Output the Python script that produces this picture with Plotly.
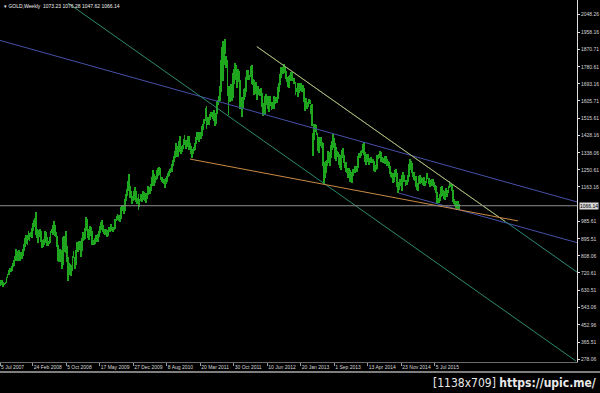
import pandas as pd
import plotly.graph_objects as go

# ---------------- data ----------------
symbol = "GOLD,Weekly"
last_ohlc = [1073.23, 1076.28, 1047.62, 1066.14]  # open, high, low, close of last bar

first_week = "2007-07-22"
bar_low = [
    656, 660, 664, 648, 658, 662, 670, 697, 710, 726, 728, 730, 750, 755, 783, 805, 782, 783, 780, 780, 795, 792, 810, 832,
    854, 870, 866, 890, 886, 905, 902, 938, 958, 965, 915, 902, 873, 908, 905, 880, 850, 852, 865, 887, 874, 860, 860, 870,
    876, 925, 915, 950, 910, 905, 855, 780, 775, 815, 775, 740, 760, 863, 828, 824, 779, 681, 712, 710, 705, 730, 795, 740,
    760, 830, 830, 855,
    838, 805, 835, 885, 888, 894, 938, 935, 900, 890, 915, 912, 865, 862, 862, 868, 880, 880, 905, 925, 940, 955, 930, 920,
    915, 925, 905, 910, 940, 930, 950, 935, 930, 940, 945, 990, 995, 987, 985, 1000, 1040, 1040, 1025, 1040, 1090, 1115,
    1140, 1160, 1105, 1105, 1075, 1090,
    1095, 1120, 1085, 1075, 1045, 1058, 1090, 1085, 1110, 1095, 1090, 1080, 1100, 1120, 1130, 1125, 1140, 1165, 1195, 1165,
    1185, 1196, 1205, 1217, 1225, 1200, 1190, 1185, 1180, 1155, 1180, 1190, 1212, 1220, 1232, 1238, 1240, 1270, 1290, 1312,
    1340, 1315, 1315, 1340, 1360, 1330, 1340, 1360, 1378, 1360, 1370, 1375,
    1353, 1355, 1330, 1309, 1330, 1345, 1355, 1385, 1405, 1410, 1395, 1420, 1410, 1425, 1455, 1485, 1500, 1462, 1480, 1480,
    1505, 1520, 1522, 1510, 1500, 1478, 1485, 1540, 1585, 1600, 1605, 1650, 1745, 1705, 1790, 1845, 1775, 1630, 1535, 1600,
    1650, 1605, 1620, 1690, 1750, 1715, 1670, 1700, 1700, 1565, 1590, 1523,
    1565, 1610, 1625, 1650, 1725, 1715, 1710, 1730, 1690, 1685, 1635, 1640, 1650, 1612, 1640, 1633, 1630, 1635, 1575, 1527,
    1532, 1535, 1585, 1585, 1562, 1550, 1578, 1560, 1565, 1562, 1590, 1600, 1595, 1615, 1650, 1685, 1725, 1755, 1745, 1765,
    1750, 1720, 1700, 1675, 1672, 1705, 1710, 1705, 1690, 1690, 1635, 1650, 1625,
    1645, 1660, 1655, 1650, 1660, 1600, 1555, 1565, 1562, 1575, 1590, 1590, 1540, 1475, 1321, 1405, 1445, 1430, 1350, 1338,
    1375, 1375, 1365, 1270, 1180, 1207, 1235, 1270, 1285, 1300, 1270, 1310, 1355, 1380, 1365, 1305, 1295, 1315, 1277, 1260,
    1251, 1310, 1310, 1285, 1262, 1240, 1235, 1210, 1225, 1186, 1194, 1182,
    1220, 1235, 1235, 1238, 1240, 1260, 1310, 1310, 1320, 1335, 1325, 1290, 1277, 1290, 1290, 1277, 1285, 1285, 1285, 1290,
    1245, 1240, 1250, 1255, 1305, 1310, 1310, 1293, 1288, 1285, 1283, 1300, 1272, 1275, 1260, 1228, 1212, 1208, 1184, 1190,
    1215, 1225, 1160, 1131, 1145, 1180, 1165, 1142, 1190, 1190, 1170, 1172,
    1187, 1215, 1275, 1250, 1232, 1216, 1197, 1195, 1163, 1147, 1142, 1180, 1178, 1190, 1185, 1175, 1170, 1170, 1185, 1202,
    1180, 1162, 1170, 1175, 1170, 1160, 1145, 1130, 1077, 1085, 1080, 1093, 1110, 1118, 1115, 1102, 1097, 1125, 1110, 1130,
    1155, 1160, 1140, 1085, 1075, 1066, 1052, 1046, 1071, 1047.62,
]
bar_high = [
    684, 674, 683, 672, 670, 675, 702, 715, 736, 746, 745, 754, 771, 788, 809, 845, 825, 832, 836, 806, 826, 815, 845, 869,
    898, 915, 915, 934, 926, 933, 953, 977, 992, 1005, 1033, 948, 935, 940, 945, 935, 892, 890, 895, 935, 930, 903, 885, 906,
    934, 946, 965, 988, 965, 930, 913, 866, 835, 846, 838, 807, 905, 911, 913, 934, 858, 800, 772, 765, 760, 810, 835, 800,
    840, 880, 880, 885,
    884, 860, 900, 930, 920, 950, 1006, 1000, 948, 932, 962, 958, 935, 890, 900, 914, 915, 920, 935, 962, 983, 992, 965, 945,
    945, 947, 935, 940, 958, 958, 970, 958, 955, 958, 999, 1012, 1024, 1020, 1010, 1061, 1070, 1070, 1065, 1100, 1124, 1150,
    1195, 1227, 1165, 1140, 1110, 1115,
    1140, 1160, 1140, 1105, 1125, 1100, 1125, 1125, 1140, 1135, 1130, 1110, 1130, 1165, 1162, 1150, 1180, 1212, 1249, 1230,
    1218, 1220, 1252, 1262, 1265, 1262, 1215, 1215, 1205, 1190, 1210, 1217, 1235, 1245, 1255, 1260, 1281, 1300, 1320, 1350,
    1387, 1375, 1362, 1398, 1424, 1375, 1380, 1410, 1432, 1405, 1392, 1425,
    1423, 1390, 1375, 1350, 1360, 1370, 1390, 1418, 1445, 1445, 1435, 1447, 1440, 1476, 1488, 1510, 1570, 1577, 1522, 1515,
    1540, 1550, 1550, 1545, 1560, 1515, 1545, 1605, 1610, 1630, 1680, 1814, 1880, 1912, 1885, 1921, 1835, 1815, 1680, 1680,
    1690, 1680, 1750, 1770, 1800, 1792, 1726, 1768, 1760, 1715, 1625, 1610,
    1625, 1665, 1670, 1730, 1765, 1765, 1740, 1785, 1790, 1720, 1715, 1670, 1700, 1680, 1680, 1660, 1665, 1670, 1645, 1595,
    1595, 1630, 1640, 1630, 1628, 1605, 1628, 1600, 1598, 1630, 1625, 1625, 1625, 1675, 1695, 1741, 1778, 1780, 1781, 1796,
    1785, 1760, 1730, 1725, 1735, 1738, 1755, 1755, 1725, 1725, 1700, 1670, 1695,
    1685, 1695, 1696, 1685, 1685, 1670, 1615, 1620, 1590, 1600, 1615, 1612, 1585, 1590, 1440, 1485, 1488, 1480, 1440, 1418,
    1420, 1420, 1395, 1390, 1290, 1268, 1297, 1300, 1348, 1340, 1325, 1380, 1400, 1433, 1415, 1390, 1370, 1345, 1340, 1330,
    1325, 1355, 1362, 1325, 1290, 1290, 1260, 1250, 1260, 1250, 1218, 1240,
    1255, 1256, 1270, 1270, 1270, 1320, 1335, 1345, 1355, 1385, 1392, 1340, 1305, 1330, 1330, 1305, 1310, 1315, 1305, 1307,
    1295, 1258, 1278, 1325, 1325, 1332, 1345, 1340, 1315, 1312, 1322, 1320, 1305, 1296, 1290, 1270, 1240, 1235, 1222, 1232,
    1250, 1255, 1235, 1180, 1190, 1205, 1205, 1222, 1238, 1225, 1200, 1200,
    1225, 1282, 1307, 1295, 1285, 1240, 1240, 1220, 1220, 1175, 1185, 1220, 1224, 1215, 1210, 1205, 1215, 1195, 1232, 1232,
    1210, 1200, 1195, 1205, 1205, 1188, 1172, 1165, 1135, 1105, 1100, 1125, 1162, 1170, 1147, 1125, 1142, 1157, 1145, 1165,
    1191, 1180, 1180, 1145, 1100, 1092, 1080, 1090, 1088, 1076.28,
]

# visible window of the chart (dates) and price scale
x_window = ["2007-07-20 12:00", "2018-02-09 05:00"]
y_window = [262.7, 2123.8]

# time-scale labels
date_tick_vals = ["2007-07-20 12:00", "2008-02-24", "2008-10-05", "2009-05-17", "2009-12-27", "2010-08-08",
                  "2011-03-20", "2011-10-30", "2012-06-10", "2013-01-20", "2013-09-01", "2014-04-13",
                  "2014-11-23", "2015-07-05"]
date_tick_text = ["5 Jul 2007", "24 Feb 2008", "5 Oct 2008", "17 May 2009", "27 Dec 2009", "8 Aug 2010",
                  "20 Mar 2011", "30 Oct 2011", "10 Jun 2012", "20 Jan 2013", "1 Sep 2013", "13 Apr 2014",
                  "23 Nov 2014", "5 Jul 2015"]
price_ticks = [2048.26, 1958.16, 1870.71, 1780.61, 1693.16, 1605.71, 1515.61, 1428.16, 1338.06, 1250.61,
               1163.16, 985.61, 895.51, 808.06, 720.61, 630.51, 543.06, 452.96, 365.51, 278.06]

# trend lines: (two anchor dates, two anchor prices, colour)
trend_lines = {
    "blue_upper": (["2007-07-20 12:00", "2018-02-09 05:00"], [1916.2, 1085.6], "#4750a8"),
    "blue_lower": (["2014-11-07", "2018-02-09 05:00"], [1131.0, 876.4], "#4750a8"),
    "teal_lower": (["2008-10-17", "2018-02-02"], [2108.0, 268.0], "#2d8a6e"),
    "teal_upper": (["2012-04-01", "2018-02-09 05:00"], [1884.4, 725.0], "#2d8a7a"),
    "khaki": (["2012-04-01", "2016-10-16"], [1884.4, 985.6], "#b8b06a"),
    "orange": (["2011-01-10", "2017-01-11"], [1306.0, 988.0], "#c98a45"),
}

# ---------------- figure ----------------
weeks = pd.date_range(first_week, periods=len(bar_low), freq="7D")
spans = [h - l for h, l in zip(bar_high, bar_low)]

fig = go.Figure()
fig.add_trace(go.Bar(
    x=weeks, y=spans, base=bar_low,
    width=6 * 24 * 3600 * 1000,
    marker=dict(color="#1fa61f", line=dict(width=0)),
    hoverinfo="skip", showlegend=False,
))

for name, (xs, ys, col) in trend_lines.items():
    fig.add_trace(go.Scatter(x=xs, y=ys, mode="lines", line=dict(color=col, width=1),
                             hoverinfo="skip", showlegend=False, name=name))

# last price line
fig.add_shape(type="line", xref="paper", x0=0, x1=1, yref="y", y0=last_ohlc[3], y1=last_ohlc[3],
              line=dict(color="#8c8c8c", width=1))
# bottom window border
fig.add_shape(type="line", xref="paper", x0=0, x1=1.04, yref="paper", y0=-0.0276, y1=-0.0276,
              line=dict(color="#a8a8a8", width=1.5))

tick_font = dict(family="Liberation Sans", size=5, color="#d8d8d8")

fig.update_layout(
    width=600, height=393,
    margin=dict(l=0, r=23, t=0, b=31),
    paper_bgcolor="black", plot_bgcolor="black",
    showlegend=False,
    bargap=0,
    xaxis=dict(type="date", range=x_window, showgrid=False, zeroline=False,
               showline=True, linecolor="#6a6a6a", linewidth=1,
               ticks="outside", ticklen=3, tickcolor="#9a9a9a", tickwidth=1,
               tickmode="array", tickvals=date_tick_vals, ticktext=date_tick_text,
               tickangle=0, ticklabelposition="outside right", tickfont=tick_font),
    yaxis=dict(side="right", range=y_window, showgrid=False, zeroline=False,
               showline=True, linecolor="#e0e0e0", linewidth=1,
               ticks="outside", ticklen=2, tickcolor="#e0e0e0",
               tickmode="array", tickvals=price_ticks, ticktext=[f"{v:.2f}" for v in price_ticks],
               tickfont=tick_font),
    annotations=[
        dict(xref="paper", yref="paper", x=0.003, y=0.998, xanchor="left", yanchor="top", showarrow=False,
             text=f"▾ {symbol}  " + " ".join(f"{v:.2f}" for v in last_ohlc),
             font=dict(family="Liberation Sans", size=5, color="#f0f0f0")),
        dict(xref="paper", yref="y", x=1.003, y=last_ohlc[3], xanchor="left", yanchor="middle", showarrow=False,
             text=f"{last_ohlc[3]:.2f}", bgcolor="#d8d8d8", borderpad=0,
             font=dict(family="Liberation Sans", size=5, color="black")),
        dict(xref="paper", yref="paper", x=1.036, y=-0.058, xanchor="right", yanchor="middle", showarrow=False,
             text="[1138x709] <b>https://upic.me/</b>",
             font=dict(family="DejaVu Sans Condensed", size=12, color="#e8e8e8")),
    ],
)

fig.write_html("out.html")
